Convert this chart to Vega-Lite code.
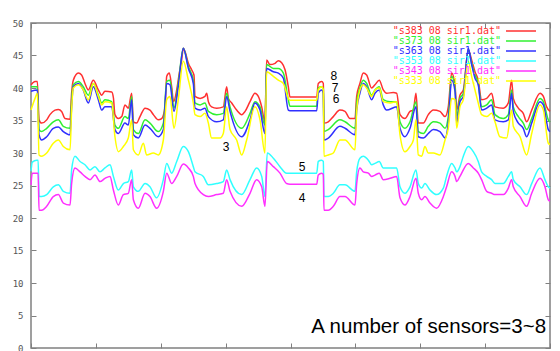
{
  "$schema": "https://vega.github.io/schema/vega-lite/v6.json",
  "width": 519,
  "height": 325,
  "autosize": {"type": "none"},
  "padding": {"left": 31, "top": 23, "right": 10, "bottom": 3},
  "background": "white",
  "config": {
    "view": {"stroke": "#808080", "strokeWidth": 1.5},
    "axis": {"domain": false, "grid": false, "tickColor": "#808080", "tickWidth": 1, "tickSize": -5, "labelFont": "DejaVu Sans Mono", "labelFontSize": 9, "labelColor": "#555555", "title": null}
  },
  "datasets": {
    "s383": [
      {"x":0,"v":40.5},{"x":3.1,"v":41.0},{"x":4.9,"v":41.0},{"x":6.2,"v":35.1},{"x":8.2,"v":34.6},{"x":12.1,"v":35.1},{"x":14.6,"v":35.9},{"x":18.5,"v":36.6},{"x":21.1,"v":36.7},{"x":23.6,"v":36.4},{"x":26.2,"v":35.3},{"x":30.1,"v":35.2},{"x":31.3,"v":39.2},{"x":32.6,"v":41.2},{"x":36.5,"v":42.3},{"x":39.0,"v":42.0},{"x":41.6,"v":40.7},{"x":44.2,"v":39.7},{"x":48.0,"v":41.2},{"x":51.9,"v":39.7},{"x":54.5,"v":38.9},{"x":57.0,"v":39.5},{"x":62.2,"v":39.4},{"x":63.5,"v":38.5},{"x":64.7,"v":35.9},{"x":67.3,"v":35.3},{"x":69.9,"v":35.6},{"x":72.4,"v":37.4},{"x":75.0,"v":36.9},{"x":77.6,"v":39.2},{"x":78.9,"v":34.8},{"x":81.4,"v":34.6},{"x":84.0,"v":35.6},{"x":87.9,"v":36.9},{"x":91.7,"v":36.6},{"x":94.3,"v":35.9},{"x":98.1,"v":35.1},{"x":100.7,"v":35.3},{"x":103.3,"v":37.1},{"x":104.6,"v":41.8},{"x":106.6,"v":42.3},{"x":108.4,"v":40.2},{"x":109.9,"v":37.9},{"x":112.3,"v":39.7},{"x":114.3,"v":42.3},{"x":116.1,"v":44.3},{"x":117.4,"v":46.1},{"x":118.7,"v":45.6},{"x":121.3,"v":43.8},{"x":123.8,"v":42.8},{"x":125.6,"v":42.0},{"x":126.4,"v":38.7},{"x":130.3,"v":38.4},{"x":134.1,"v":38.7},{"x":135.4,"v":39.2},{"x":136.7,"v":37.9},{"x":139.2,"v":37.1},{"x":143.1,"v":36.9},{"x":148.2,"v":37.1},{"x":150.8,"v":40.2},{"x":152.1,"v":38.4},{"x":154.7,"v":37.7},{"x":158.5,"v":36.6},{"x":162.4,"v":35.9},{"x":165.0,"v":36.4},{"x":168.8,"v":37.9},{"x":172.6,"v":39.2},{"x":175.2,"v":38.7},{"x":177.8,"v":37.1},{"x":180.3,"v":34.8},{"x":181.6,"v":44.3},{"x":184.2,"v":43.6},{"x":188.1,"v":43.8},{"x":190.6,"v":44.2},{"x":193.2,"v":43.9},{"x":195.8,"v":42.8},{"x":198.3,"v":40.2},{"x":199.6,"v":38.6},{"x":220.2,"v":38.6},{"x":221.4,"v":40.7},{"x":224.0,"v":41.0},{"x":225.3,"v":40.7},{"x":225.8,"v":34.6},{"x":229.1,"v":34.8},{"x":233.0,"v":35.6},{"x":238.1,"v":36.6},{"x":242.0,"v":36.4},{"x":245.8,"v":35.3},{"x":249.7,"v":35.3},{"x":251.0,"v":38.7},{"x":253.5,"v":40.7},{"x":256.1,"v":42.3},{"x":258.7,"v":42.0},{"x":262.5,"v":40.0},{"x":265.1,"v":40.5},{"x":268.4,"v":41.2},{"x":271.5,"v":39.7},{"x":274.1,"v":39.2},{"x":279.2,"v":39.3},{"x":281.8,"v":39.2},{"x":284.4,"v":35.9},{"x":288.2,"v":35.3},{"x":292.1,"v":36.4},{"x":294.7,"v":36.6},{"x":296.7,"v":39.2},{"x":298.5,"v":34.6},{"x":302.4,"v":34.6},{"x":306.2,"v":35.9},{"x":310.1,"v":36.6},{"x":315.2,"v":36.4},{"x":319.1,"v":35.6},{"x":321.6,"v":37.1},{"x":324.2,"v":42.3},{"x":326.8,"v":40.5},{"x":328.1,"v":36.6},{"x":330.6,"v":38.9},{"x":333.2,"v":39.7},{"x":337.0,"v":45.9},{"x":339.6,"v":44.3},{"x":342.2,"v":42.5},{"x":344.7,"v":41.2},{"x":347.3,"v":38.2},{"x":351.2,"v":38.4},{"x":355.0,"v":39.2},{"x":357.6,"v":37.1},{"x":364.0,"v":36.9},{"x":367.9,"v":37.7},{"x":370.4,"v":41.2},{"x":371.7,"v":38.4},{"x":375.6,"v":36.9},{"x":379.4,"v":36.1},{"x":382.0,"v":34.8},{"x":385.9,"v":36.6},{"x":392.3,"v":39.2},{"x":394.9,"v":38.7},{"x":397.4,"v":37.1},{"x":400,"v":36.4}
    ],
    "s373": [
      {"x":0,"v":40.2},{"x":4.9,"v":40.2},{"x":6.2,"v":33.6},{"x":8.2,"v":33.3},{"x":12.1,"v":33.8},{"x":17.2,"v":34.8},{"x":21.1,"v":35.1},{"x":24.9,"v":34.1},{"x":30.1,"v":33.8},{"x":31.3,"v":38.2},{"x":32.6,"v":40.5},{"x":36.5,"v":41.0},{"x":40.3,"v":40.2},{"x":44.2,"v":38.9},{"x":48.0,"v":40.7},{"x":51.9,"v":38.9},{"x":54.5,"v":37.7},{"x":57.0,"v":38.2},{"x":62.2,"v":37.9},{"x":64.7,"v":34.3},{"x":67.3,"v":33.8},{"x":72.4,"v":35.6},{"x":75.0,"v":35.3},{"x":77.6,"v":38.7},{"x":78.9,"v":33.6},{"x":82.7,"v":33.0},{"x":87.9,"v":35.1},{"x":91.7,"v":34.6},{"x":98.1,"v":33.3},{"x":102.0,"v":34.6},{"x":104.6,"v":41.0},{"x":107.1,"v":41.2},{"x":110.2,"v":36.9},{"x":113.5,"v":40.7},{"x":117.4,"v":46.1},{"x":121.3,"v":43.3},{"x":125.1,"v":41.2},{"x":126.4,"v":37.7},{"x":130.3,"v":37.4},{"x":134.1,"v":37.7},{"x":136.7,"v":36.4},{"x":143.1,"v":35.9},{"x":148.2,"v":36.1},{"x":150.8,"v":39.2},{"x":153.4,"v":37.1},{"x":162.4,"v":33.8},{"x":168.8,"v":36.1},{"x":172.6,"v":37.9},{"x":176.5,"v":37.1},{"x":180.3,"v":34.3},{"x":181.6,"v":43.6},{"x":186.8,"v":43.0},{"x":190.6,"v":43.0},{"x":194.5,"v":42.3},{"x":198.3,"v":38.2},{"x":199.6,"v":37.2},{"x":220.2,"v":37.2},{"x":221.4,"v":40.0},{"x":224.0,"v":40.2},{"x":225.3,"v":39.8},{"x":225.8,"v":33.3},{"x":229.1,"v":33.6},{"x":238.1,"v":35.1},{"x":242.0,"v":34.8},{"x":249.7,"v":33.8},{"x":251.0,"v":37.7},{"x":253.5,"v":40.0},{"x":256.1,"v":41.2},{"x":258.7,"v":40.7},{"x":262.5,"v":38.9},{"x":265.1,"v":39.7},{"x":268.4,"v":40.2},{"x":271.5,"v":38.2},{"x":276.7,"v":37.9},{"x":281.8,"v":37.9},{"x":284.4,"v":34.8},{"x":288.2,"v":33.8},{"x":292.1,"v":34.8},{"x":296.7,"v":37.9},{"x":298.5,"v":33.3},{"x":302.4,"v":33.0},{"x":306.2,"v":34.1},{"x":310.1,"v":34.8},{"x":315.2,"v":34.6},{"x":319.1,"v":33.8},{"x":321.6,"v":35.6},{"x":324.2,"v":41.8},{"x":326.8,"v":40.0},{"x":328.1,"v":35.6},{"x":330.6,"v":38.4},{"x":333.2,"v":39.2},{"x":337.0,"v":45.9},{"x":339.6,"v":43.8},{"x":342.2,"v":42.0},{"x":344.7,"v":40.7},{"x":347.3,"v":37.1},{"x":351.2,"v":37.4},{"x":355.0,"v":38.2},{"x":357.6,"v":35.9},{"x":364.0,"v":35.3},{"x":367.9,"v":35.9},{"x":370.4,"v":39.7},{"x":371.7,"v":37.1},{"x":375.6,"v":35.6},{"x":379.4,"v":34.6},{"x":382.0,"v":33.6},{"x":385.9,"v":35.3},{"x":392.3,"v":38.4},{"x":394.9,"v":37.9},{"x":398.7,"v":35.1},{"x":400,"v":34.8}
    ],
    "s363": [
      {"x":0,"v":39.5},{"x":4.9,"v":39.7},{"x":6.2,"v":32.8},{"x":8.2,"v":32.0},{"x":12.1,"v":32.5},{"x":17.2,"v":33.8},{"x":21.1,"v":34.0},{"x":24.9,"v":33.3},{"x":30.1,"v":32.8},{"x":31.3,"v":37.1},{"x":32.6,"v":40.2},{"x":36.5,"v":40.7},{"x":40.3,"v":39.7},{"x":44.2,"v":37.7},{"x":48.0,"v":40.2},{"x":51.9,"v":38.2},{"x":54.5,"v":36.6},{"x":57.0,"v":37.1},{"x":62.2,"v":37.1},{"x":64.7,"v":33.6},{"x":67.3,"v":33.0},{"x":72.4,"v":34.6},{"x":75.0,"v":34.3},{"x":77.6,"v":38.2},{"x":78.9,"v":32.8},{"x":82.7,"v":32.3},{"x":87.9,"v":34.3},{"x":91.7,"v":33.8},{"x":98.1,"v":32.5},{"x":102.0,"v":33.6},{"x":104.6,"v":40.7},{"x":107.1,"v":40.5},{"x":110.2,"v":36.4},{"x":113.5,"v":40.2},{"x":117.4,"v":46.1},{"x":121.3,"v":43.0},{"x":125.1,"v":40.7},{"x":126.4,"v":36.9},{"x":130.3,"v":36.6},{"x":134.1,"v":36.9},{"x":136.7,"v":35.6},{"x":143.1,"v":34.8},{"x":148.2,"v":35.1},{"x":150.8,"v":38.7},{"x":153.4,"v":36.4},{"x":162.4,"v":32.5},{"x":168.8,"v":35.1},{"x":172.6,"v":37.7},{"x":176.5,"v":36.6},{"x":180.3,"v":33.0},{"x":181.6,"v":43.0},{"x":186.8,"v":42.5},{"x":190.6,"v":42.3},{"x":194.5,"v":41.5},{"x":198.3,"v":36.6},{"x":199.6,"v":36.5},{"x":220.2,"v":36.5},{"x":221.4,"v":39.2},{"x":224.0,"v":39.7},{"x":225.3,"v":39.2},{"x":225.8,"v":32.0},{"x":229.1,"v":32.3},{"x":238.1,"v":34.1},{"x":242.0,"v":33.8},{"x":249.7,"v":32.8},{"x":251.0,"v":36.6},{"x":253.5,"v":39.2},{"x":256.1,"v":40.7},{"x":258.7,"v":40.2},{"x":262.5,"v":38.2},{"x":265.1,"v":39.2},{"x":268.4,"v":39.7},{"x":271.5,"v":37.4},{"x":274.1,"v":36.6},{"x":281.8,"v":37.1},{"x":284.4,"v":33.8},{"x":288.2,"v":32.5},{"x":292.1,"v":33.8},{"x":296.7,"v":37.1},{"x":298.5,"v":32.5},{"x":302.4,"v":32.3},{"x":306.2,"v":33.0},{"x":310.1,"v":33.6},{"x":315.2,"v":33.3},{"x":319.1,"v":32.3},{"x":321.6,"v":34.6},{"x":324.2,"v":41.2},{"x":326.8,"v":39.5},{"x":328.1,"v":34.6},{"x":330.6,"v":37.9},{"x":333.2,"v":38.7},{"x":337.0,"v":46.1},{"x":339.6,"v":43.6},{"x":342.2,"v":41.5},{"x":344.7,"v":40.5},{"x":347.3,"v":36.6},{"x":351.2,"v":36.9},{"x":355.0,"v":37.4},{"x":357.6,"v":35.1},{"x":364.0,"v":34.8},{"x":367.9,"v":35.1},{"x":370.4,"v":39.2},{"x":371.7,"v":36.4},{"x":375.6,"v":34.6},{"x":379.4,"v":33.8},{"x":382.0,"v":32.5},{"x":385.9,"v":34.6},{"x":392.3,"v":37.9},{"x":394.9,"v":37.4},{"x":398.7,"v":33.6},{"x":400,"v":33.3}
    ],
    "s353": [
      {"x":0,"v":27.2},{"x":1.0,"v":28.6},{"x":4.4,"v":28.9},{"x":5.5,"v":28.9},{"x":6.2,"v":23.3},{"x":8.2,"v":23.3},{"x":12.1,"v":23.6},{"x":17.2,"v":24.8},{"x":21.1,"v":25.1},{"x":24.9,"v":24.1},{"x":30.1,"v":23.8},{"x":31.3,"v":27.4},{"x":33.9,"v":29.5},{"x":37.8,"v":28.7},{"x":41.6,"v":28.2},{"x":45.5,"v":27.4},{"x":49.3,"v":27.9},{"x":53.2,"v":27.1},{"x":57.0,"v":27.7},{"x":60.9,"v":28.2},{"x":63.5,"v":26.4},{"x":67.3,"v":24.3},{"x":71.2,"v":25.3},{"x":75.0,"v":25.6},{"x":77.6,"v":27.4},{"x":78.9,"v":24.8},{"x":82.7,"v":24.1},{"x":87.9,"v":25.3},{"x":91.7,"v":24.8},{"x":96.8,"v":23.1},{"x":102.0,"v":25.9},{"x":104.6,"v":28.4},{"x":108.4,"v":26.9},{"x":112.3,"v":28.7},{"x":117.4,"v":31.0},{"x":121.3,"v":30.2},{"x":125.1,"v":27.9},{"x":126.4,"v":27.1},{"x":132.8,"v":26.4},{"x":136.7,"v":25.1},{"x":143.1,"v":25.3},{"x":148.2,"v":25.6},{"x":150.8,"v":27.4},{"x":153.4,"v":25.9},{"x":162.4,"v":23.6},{"x":168.8,"v":25.9},{"x":173.9,"v":27.7},{"x":177.8,"v":26.4},{"x":180.3,"v":23.3},{"x":182.1,"v":30.0},{"x":186.8,"v":29.2},{"x":191.9,"v":27.9},{"x":197.0,"v":26.9},{"x":199.6,"v":26.9},{"x":220.2,"v":26.9},{"x":221.4,"v":28.7},{"x":224.0,"v":28.9},{"x":225.3,"v":28.7},{"x":225.8,"v":23.3},{"x":229.1,"v":23.3},{"x":233.0,"v":23.8},{"x":238.1,"v":25.1},{"x":242.0,"v":25.1},{"x":249.7,"v":24.1},{"x":251.0,"v":27.1},{"x":253.5,"v":29.2},{"x":256.1,"v":29.5},{"x":260.0,"v":28.9},{"x":262.5,"v":28.2},{"x":265.1,"v":28.4},{"x":268.4,"v":28.7},{"x":271.5,"v":27.7},{"x":276.7,"v":27.7},{"x":281.8,"v":27.7},{"x":284.4,"v":24.8},{"x":288.2,"v":23.8},{"x":292.1,"v":24.8},{"x":296.7,"v":27.4},{"x":298.5,"v":25.3},{"x":301.1,"v":24.6},{"x":303.6,"v":25.3},{"x":307.5,"v":24.3},{"x":312.6,"v":23.6},{"x":317.8,"v":24.6},{"x":320.3,"v":26.4},{"x":324.2,"v":28.4},{"x":326.8,"v":27.7},{"x":328.1,"v":27.1},{"x":330.6,"v":27.9},{"x":333.2,"v":29.5},{"x":337.0,"v":31.0},{"x":340.9,"v":30.2},{"x":344.7,"v":28.7},{"x":347.3,"v":27.1},{"x":351.2,"v":26.4},{"x":355.0,"v":25.9},{"x":357.6,"v":25.3},{"x":364.0,"v":25.3},{"x":367.9,"v":26.4},{"x":370.4,"v":27.1},{"x":371.7,"v":25.9},{"x":376.9,"v":24.8},{"x":382.0,"v":23.6},{"x":385.9,"v":25.3},{"x":392.3,"v":27.7},{"x":396.1,"v":25.9},{"x":398.7,"v":24.8},{"x":400,"v":24.6}
    ],
    "s343": [
      {"x":0,"v":25.1},{"x":1.0,"v":26.9},{"x":4.4,"v":26.9},{"x":5.5,"v":26.9},{"x":6.2,"v":21.2},{"x":8.2,"v":21.2},{"x":12.1,"v":21.8},{"x":17.2,"v":23.3},{"x":21.1,"v":23.6},{"x":24.9,"v":22.3},{"x":30.1,"v":22.0},{"x":31.3,"v":25.3},{"x":33.9,"v":27.7},{"x":37.8,"v":27.1},{"x":41.6,"v":26.4},{"x":45.5,"v":25.9},{"x":49.3,"v":26.6},{"x":53.2,"v":25.6},{"x":57.0,"v":26.1},{"x":60.9,"v":26.4},{"x":63.5,"v":24.3},{"x":67.3,"v":22.0},{"x":71.2,"v":23.6},{"x":75.0,"v":23.8},{"x":77.6,"v":25.9},{"x":78.9,"v":22.8},{"x":82.7,"v":21.5},{"x":87.9,"v":23.8},{"x":91.7,"v":23.3},{"x":96.8,"v":21.5},{"x":102.0,"v":24.1},{"x":104.6,"v":26.9},{"x":108.4,"v":25.3},{"x":112.3,"v":26.4},{"x":117.4,"v":28.3},{"x":121.3,"v":27.7},{"x":125.1,"v":26.4},{"x":126.4,"v":25.3},{"x":132.8,"v":23.6},{"x":136.7,"v":23.3},{"x":143.1,"v":23.6},{"x":148.2,"v":23.8},{"x":150.8,"v":25.9},{"x":153.4,"v":24.1},{"x":162.4,"v":21.8},{"x":168.8,"v":23.8},{"x":173.9,"v":25.9},{"x":177.8,"v":24.8},{"x":180.3,"v":21.8},{"x":182.1,"v":28.7},{"x":186.8,"v":27.9},{"x":191.9,"v":26.9},{"x":197.0,"v":25.3},{"x":199.6,"v":25.2},{"x":220.2,"v":25.2},{"x":221.4,"v":26.6},{"x":224.0,"v":26.9},{"x":225.3,"v":26.7},{"x":225.8,"v":21.2},{"x":229.1,"v":21.2},{"x":233.0,"v":21.8},{"x":238.1,"v":23.3},{"x":242.0,"v":23.3},{"x":249.7,"v":22.0},{"x":251.0,"v":25.3},{"x":253.5,"v":27.7},{"x":256.1,"v":27.1},{"x":260.0,"v":26.9},{"x":262.5,"v":26.4},{"x":265.1,"v":26.6},{"x":268.4,"v":26.9},{"x":271.5,"v":25.9},{"x":276.7,"v":26.1},{"x":281.8,"v":26.4},{"x":284.4,"v":23.1},{"x":288.2,"v":22.0},{"x":292.1,"v":23.3},{"x":296.7,"v":26.1},{"x":298.5,"v":23.8},{"x":301.1,"v":22.8},{"x":303.6,"v":23.3},{"x":307.5,"v":22.3},{"x":312.6,"v":21.5},{"x":317.8,"v":23.3},{"x":320.3,"v":24.8},{"x":324.2,"v":27.1},{"x":326.8,"v":26.4},{"x":328.1,"v":25.6},{"x":330.6,"v":26.4},{"x":337.0,"v":28.4},{"x":340.9,"v":27.7},{"x":344.7,"v":26.9},{"x":347.3,"v":25.9},{"x":351.2,"v":24.1},{"x":355.0,"v":23.8},{"x":357.6,"v":23.6},{"x":364.0,"v":23.6},{"x":367.9,"v":24.6},{"x":370.4,"v":25.9},{"x":371.7,"v":24.8},{"x":376.9,"v":23.3},{"x":382.0,"v":21.8},{"x":385.9,"v":23.8},{"x":392.3,"v":26.1},{"x":396.1,"v":24.8},{"x":398.7,"v":22.8},{"x":400,"v":22.6}
    ],
    "s333": [
      {"x":0,"v":36.6},{"x":3.1,"v":38.4},{"x":4.9,"v":39.2},{"x":6.2,"v":29.7},{"x":8.2,"v":29.5},{"x":12.1,"v":30.0},{"x":17.2,"v":31.5},{"x":21.1,"v":32.0},{"x":24.9,"v":31.0},{"x":30.1,"v":30.5},{"x":31.3,"v":36.6},{"x":32.6,"v":40.0},{"x":36.5,"v":40.5},{"x":40.3,"v":39.7},{"x":44.2,"v":38.2},{"x":48.0,"v":40.7},{"x":51.9,"v":38.7},{"x":54.5,"v":37.4},{"x":57.0,"v":37.9},{"x":62.2,"v":37.7},{"x":64.7,"v":32.5},{"x":67.3,"v":30.2},{"x":71.2,"v":31.0},{"x":75.0,"v":32.3},{"x":77.6,"v":35.1},{"x":78.9,"v":30.5},{"x":82.7,"v":29.7},{"x":86.6,"v":31.5},{"x":89.1,"v":29.7},{"x":94.3,"v":30.0},{"x":98.1,"v":29.7},{"x":102.0,"v":32.0},{"x":104.6,"v":38.2},{"x":107.1,"v":38.7},{"x":110.2,"v":33.8},{"x":113.5,"v":38.2},{"x":117.4,"v":44.1},{"x":121.3,"v":41.2},{"x":125.1,"v":37.7},{"x":126.4,"v":35.9},{"x":130.3,"v":35.6},{"x":134.1,"v":36.1},{"x":136.7,"v":34.6},{"x":139.2,"v":32.3},{"x":145.7,"v":32.3},{"x":148.2,"v":33.0},{"x":150.8,"v":37.1},{"x":153.4,"v":33.6},{"x":158.5,"v":32.0},{"x":162.4,"v":29.7},{"x":166.2,"v":32.0},{"x":172.6,"v":37.1},{"x":176.5,"v":35.1},{"x":180.3,"v":30.0},{"x":181.6,"v":42.5},{"x":186.8,"v":41.8},{"x":190.6,"v":41.2},{"x":194.5,"v":40.7},{"x":198.3,"v":38.4},{"x":199.6,"v":38.1},{"x":220.2,"v":38.1},{"x":221.4,"v":39.7},{"x":224.0,"v":40.2},{"x":225.3,"v":39.7},{"x":225.8,"v":29.5},{"x":229.1,"v":29.7},{"x":233.0,"v":30.0},{"x":238.1,"v":32.0},{"x":242.0,"v":32.0},{"x":249.7,"v":30.5},{"x":251.0,"v":36.4},{"x":253.5,"v":39.7},{"x":256.1,"v":40.5},{"x":258.7,"v":40.0},{"x":262.5,"v":38.7},{"x":265.1,"v":39.7},{"x":268.4,"v":40.0},{"x":271.5,"v":37.9},{"x":276.7,"v":37.7},{"x":281.8,"v":37.9},{"x":284.4,"v":32.8},{"x":288.2,"v":30.2},{"x":292.1,"v":31.0},{"x":294.7,"v":32.0},{"x":296.7,"v":35.1},{"x":298.5,"v":29.7},{"x":301.1,"v":29.5},{"x":303.6,"v":31.0},{"x":306.2,"v":30.0},{"x":310.1,"v":30.0},{"x":315.2,"v":29.7},{"x":319.1,"v":32.0},{"x":321.6,"v":33.8},{"x":324.2,"v":38.4},{"x":326.8,"v":38.2},{"x":328.1,"v":33.8},{"x":330.6,"v":37.1},{"x":333.2,"v":38.2},{"x":337.0,"v":44.1},{"x":339.6,"v":41.8},{"x":342.2,"v":39.7},{"x":344.7,"v":37.7},{"x":347.3,"v":35.9},{"x":351.2,"v":35.6},{"x":355.0,"v":36.1},{"x":357.6,"v":34.8},{"x":361.4,"v":32.5},{"x":366.6,"v":32.3},{"x":370.4,"v":36.6},{"x":371.7,"v":34.1},{"x":376.9,"v":32.5},{"x":382.0,"v":29.7},{"x":385.9,"v":33.0},{"x":392.3,"v":37.4},{"x":394.9,"v":36.6},{"x":398.7,"v":31.5},{"x":400,"v":31.3}
    ],
    "notes": [
      {"x":233.5,"v":41.8,"t":"8"},{"x":234.3,"v":40.0,"t":"7"},{"x":235.1,"v":38.3,"t":"6"},{"x":208.9,"v":27.8,"t":"5"},{"x":208.9,"v":23.1,"t":"4"},{"x":150.3,"v":30.9,"t":"3"}
    ],
    "caption": [
      {"x":397,"v":2.3,"t":"A number of sensors=3~8"}
    ]
  },
  "layer": [
    {
      "data": {"name": "s383"},
      "mark": {"type": "line", "strokeWidth": 1.5, "interpolate": "monotone"},
      "encoding": {
        "x": {"field": "x", "type": "quantitative", "scale": {"domain": [0, 400], "nice": false}, "axis": {"orient": "bottom", "values": [0,50,100,150,200,250,300,350,400], "labels": false}},
        "y": {"field": "v", "type": "quantitative", "scale": {"domain": [0, 50], "nice": false}, "axis": {"orient": "left", "values": [0,5,10,15,20,25,30,35,40,45,50], "labelPadding": 13}},
        "color": {
          "datum": "\"s383 08 sir1.dat\"",
          "scale": {
            "domain": ["\"s383 08 sir1.dat\"", "\"s373 08 sir1.dat\"", "\"s363 08 sir1.dat\"", "\"s353 08 sir1.dat\"", "\"s343 08 sir1.dat\"", "\"s333 08 sir1.dat\""],
            "range": ["#ff3030", "#30f030", "#3030ff", "#30ffff", "#ff30ff", "#ffff00"]
          },
          "legend": {
            "orient": "none", "legendX": 485, "legendY": 3, "title": null,
            "symbolType": "M-5,0H5", "symbolSize": 36, "symbolStrokeWidth": 1.5, "symbolFillColor": "transparent",
            "rowPadding": -2,
            "labelAlign": "right", "labelOffset": -25, "labelBaseline": "middle",
            "labelFont": "DejaVu Sans Mono", "labelFontSize": 10, "padding": 0,
            "encode": {"labels": {"update": {"fill": {"scale": "color", "field": "value"}}}}
          }
        }
      }
    },
    {
      "data": {"name": "s373"},
      "mark": {"type": "line", "strokeWidth": 1.5, "interpolate": "monotone"},
      "encoding": {
        "x": {"field": "x", "type": "quantitative", "axis": {"orient": "top", "values": [0,50,100,150,200,250,300,350,400], "labels": false}},
        "y": {"field": "v", "type": "quantitative", "axis": {"orient": "right", "values": [0,5,10,15,20,25,30,35,40,45,50], "labels": false}},
        "color": {"datum": "\"s373 08 sir1.dat\""}
      }
    },
    {
      "data": {"name": "s363"},
      "mark": {"type": "line", "strokeWidth": 1.5, "interpolate": "monotone"},
      "encoding": {
        "x": {"field": "x", "type": "quantitative", "axis": null},
        "y": {"field": "v", "type": "quantitative", "axis": null},
        "color": {"datum": "\"s363 08 sir1.dat\""}
      }
    },
    {
      "data": {"name": "s353"},
      "mark": {"type": "line", "strokeWidth": 1.5, "interpolate": "monotone"},
      "encoding": {
        "x": {"field": "x", "type": "quantitative", "axis": null},
        "y": {"field": "v", "type": "quantitative", "axis": null},
        "color": {"datum": "\"s353 08 sir1.dat\""}
      }
    },
    {
      "data": {"name": "s343"},
      "mark": {"type": "line", "strokeWidth": 1.5, "interpolate": "monotone"},
      "encoding": {
        "x": {"field": "x", "type": "quantitative", "axis": null},
        "y": {"field": "v", "type": "quantitative", "axis": null},
        "color": {"datum": "\"s343 08 sir1.dat\""}
      }
    },
    {
      "data": {"name": "s333"},
      "mark": {"type": "line", "strokeWidth": 1.5, "interpolate": "monotone"},
      "encoding": {
        "x": {"field": "x", "type": "quantitative", "axis": null},
        "y": {"field": "v", "type": "quantitative", "axis": null},
        "color": {"datum": "\"s333 08 sir1.dat\""}
      }
    },
    {
      "data": {"name": "notes"},
      "mark": {"type": "text", "font": "Liberation Sans", "fontSize": 12, "color": "#000000", "align": "center", "baseline": "middle"},
      "encoding": {
        "x": {"field": "x", "type": "quantitative", "axis": null},
        "y": {"field": "v", "type": "quantitative", "axis": null},
        "text": {"field": "t"}
      }
    },
    {
      "data": {"name": "caption"},
      "mark": {"type": "text", "font": "Liberation Sans", "fontSize": 20.5, "color": "#000000", "align": "right", "baseline": "alphabetic"},
      "encoding": {
        "x": {"field": "x", "type": "quantitative", "axis": null},
        "y": {"field": "v", "type": "quantitative", "axis": null},
        "text": {"field": "t"}
      }
    }
  ],
  "resolve": {"axis": {"x": "independent", "y": "independent"}}
}
